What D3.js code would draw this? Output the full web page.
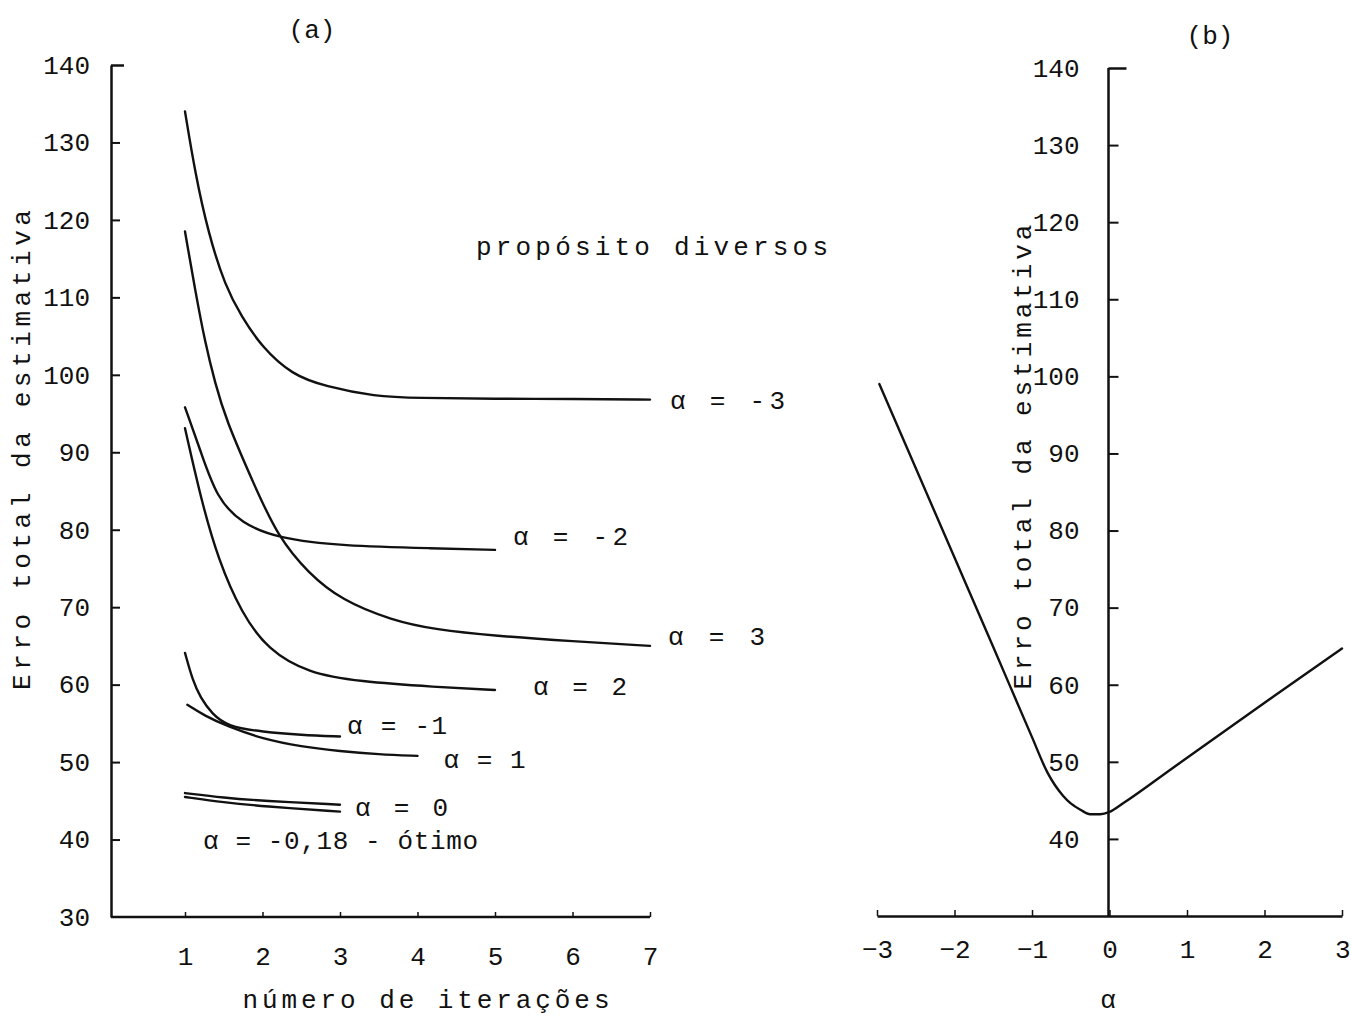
<!DOCTYPE html>
<html>
<head>
<meta charset="utf-8">
<script src="https://cdn.jsdelivr.net/npm/d3@7"></script>
<style>
  html, body { margin: 0; padding: 0; background: #fff; }
  svg { display: block; }
  text { font-family: "Liberation Mono", "DejaVu Sans Mono", monospace; fill: #111; }
</style>
</head>
<body>
<svg id="chart" width="1351" height="1023"></svg>
<script>
// ---------- DATA ----------
// Panel (a): error vs number of iterations, one curve per alpha
const iterTicks = [1, 2, 3, 4, 5, 6, 7];
const errorTicks = [30, 40, 50, 60, 70, 80, 90, 100, 110, 120, 130, 140];

const alphaM3 = [[1,134.0],[1.13,126.1],[1.3,118.3],[1.52,111.4],[1.73,107.5],[1.99,103.6],[2.38,100],[2.81,98.5],[3.45,97.2],[4,97],[5,96.9],[6,96.9],[7,96.8]];
const alphaM2 = [[1,95.8],[1.21,89.9],[1.41,84.1],[1.73,80.8],[2.2,78.9],[3.02,77.9],[4.23,77.6],[5,77.4]];
const alphaP3 = [[1,118.5],[1.13,111],[1.26,104.1],[1.39,98.9],[1.52,94.4],[1.9,85.6],[2.2,79.1],[2.59,74.4],[3.02,70.9],[3.67,68.3],[4.23,67.1],[5,66.3],[6,65.6],[7,65]];
const alphaP2 = [[1,93.1],[1.21,83.8],[1.43,76.1],[1.73,69.2],[2.07,64.5],[2.59,61.5],[3.24,60.4],[4.23,59.7],[5,59.3]];
const alphaM1 = [[1,64.1],[1.1,60.5],[1.2,58.3],[1.35,56.2],[1.55,54.6],[2,53.9],[2.5,53.5],[3,53.3]];
const alphaP1 = [[1.03,57.4],[1.25,56],[1.55,54.6],[2,53],[2.5,52],[3,51.4],[3.5,51],[4,50.8]];
const alphaZero = [[1,46.0],[1.5,45.4],[2,45.0],[3,44.5]];
const alphaOpt = [[1,45.5],[1.5,44.8],[2,44.3],[3,43.6]];

const seriesLabels = ["α = -3", "α = -2", "α = 3", "α = 2", "α = -1", "α = 1", "α = 0", "α = -0,18 - ótimo"];

// Panel (b): total error vs alpha
const alphaTicks = [-3, -2, -1, 0, 1, 2, 3];
const alphaValues = [-2.97, -2, -1.5, -1, -0.8, -0.6, -0.5, -0.37, -0.25, -0.12, 0, 0.18, 0.83, 2.12, 3];
const totalError  = [99.0, 76.5, 64.9, 53.2, 48.6, 45.6, 44.6, 43.75, 43.2, 43.2, 43.5, 44.65, 49.3, 58.5, 64.7];

// ---------- LAYOUT ----------
const svg = d3.select("#chart");
const FS = 26;

const xa = d3.scaleLinear().domain([1, 7]).range([185, 650]);
const ya = d3.scaleLinear().domain([30, 140]).range([917, 65]);
const axLeftX = 111;

const xb = d3.scaleLinear().domain([-3, 3]).range([877, 1342]);
const yb = d3.scaleLinear().domain([30, 140]).range([916, 68]);

const ink = "#111";

// ----- Panel (a) axes -----
const gA = svg.append("g");
const yAxisA = d3.axisLeft(ya).tickValues(errorTicks).tickSizeInner(-9).tickSizeOuter(0).tickPadding(21).tickFormat(d3.format("d"));
const gyA = gA.append("g").attr("transform", `translate(${axLeftX},0)`).call(yAxisA);
gyA.select(".domain").attr("stroke", ink).attr("stroke-width", 2.5);
gyA.selectAll(".tick line").attr("stroke", ink).attr("stroke-width", 2);
gyA.selectAll(".tick text").attr("font-size", FS).attr("fill", ink);
gyA.selectAll(".tick").filter(d => d === 30).select("line").remove();
gyA.selectAll(".tick").filter(d => d === 140).select("line").attr("x2", 13).attr("stroke-width", 2.5);

gA.append("line").attr("x1", axLeftX).attr("x2", xa(7)).attr("y1", ya(30)).attr("y2", ya(30))
  .attr("stroke", ink).attr("stroke-width", 2.5);
const xAxisA = d3.axisBottom(xa).tickValues(iterTicks).tickSizeInner(-5).tickSizeOuter(0).tickPadding(30).tickFormat(d3.format("d"));
const gxA = gA.append("g").attr("transform", `translate(0,${ya(30)})`).call(xAxisA);
gxA.select(".domain").remove();
gxA.selectAll(".tick line").attr("stroke", ink).attr("stroke-width", 1.5);
gxA.selectAll(".tick text").attr("font-size", FS).attr("fill", ink);

gA.append("text").attr("x", 426).attr("y", 1008).attr("text-anchor", "middle")
  .attr("font-size", FS).attr("textLength", 367).attr("lengthAdjust", "spacing").text("número de iterações");
gA.append("text").attr("transform", "translate(30,450) rotate(-90)").attr("text-anchor", "middle")
  .attr("font-size", FS).attr("textLength", 480).attr("lengthAdjust", "spacing").text("Erro total da estimativa");
gA.append("text").attr("x", 312).attr("y", 38).attr("text-anchor", "middle").attr("font-size", FS).text("(a)");
gA.append("text").attr("x", 476).attr("y", 255).attr("font-size", FS)
  .attr("textLength", 352).attr("lengthAdjust", "spacing").text("propósito diversos");

const lineA = d3.line().x(d => xa(d[0])).y(d => ya(d[1])).curve(d3.curveBasis);
const seriesA = [alphaM3, alphaM2, alphaP3, alphaP2, alphaM1, alphaP1, alphaZero, alphaOpt];
gA.selectAll("path.curve").data(seriesA).enter().append("path")
  .attr("class", "curve").attr("d", lineA)
  .attr("fill", "none").attr("stroke", ink).attr("stroke-width", 2.4).attr("stroke-linecap", "round");

// labels relative to the curve ends: [anchor point, dx, dy, text width]
const labelLayout = [
  ["last", 20, 0, 115],
  ["last", 18, -14, 115],
  ["last", 18, -10, 97],
  ["last", 38, -4, 94],
  ["last", 7, -12, 100],
  ["last", 26, 3, 82],
  ["last", 15, 2, 93],
  ["first", 18, 43, 275]
];
seriesA.forEach((s, i) => {
  const [which, dx, dy, w] = labelLayout[i];
  const p = which === "last" ? s[s.length - 1] : s[0];
  gA.append("text")
    .attr("x", xa(p[0]) + dx).attr("y", ya(p[1]) + dy)
    .attr("dy", "0.35em").attr("font-size", FS)
    .attr("textLength", w).attr("lengthAdjust", "spacing")
    .text(seriesLabels[i]);
});

// ----- Panel (b) -----
const gB = svg.append("g");
const yAxisB = d3.axisLeft(yb).tickValues(errorTicks.filter(d => d >= 40)).tickSizeInner(-10).tickSizeOuter(0).tickPadding(29).tickFormat(d3.format("d"));
const gyB = gB.append("g").attr("transform", `translate(${xb(0) - 1},0)`).call(yAxisB);
gyB.select(".domain").attr("d", `M0,${yb(140)}V${yb(30)}`).attr("stroke", ink).attr("stroke-width", 2.5);
gyB.selectAll(".tick line").attr("stroke", ink).attr("stroke-width", 2);
gyB.selectAll(".tick text").attr("font-size", FS).attr("fill", ink);
gyB.selectAll(".tick").filter(d => d === 140).select("line").attr("x2", 18).attr("stroke-width", 2.5);

const xAxisB = d3.axisBottom(xb).tickValues(alphaTicks).tickSizeInner(-6).tickSizeOuter(0).tickPadding(24).tickFormat(d3.format("d"));
const gxB = gB.append("g").attr("transform", `translate(0,${yb(30)})`).call(xAxisB);
gxB.select(".domain").attr("stroke", ink).attr("stroke-width", 2.5);
gxB.selectAll(".tick line").attr("stroke", ink).attr("stroke-width", 1.5);
gxB.selectAll(".tick text").attr("font-size", FS).attr("fill", ink);
gxB.selectAll(".tick").filter(d => d === 3).select("text").attr("text-anchor", "end").attr("x", 8);

gB.append("text").attr("x", 1108).attr("y", 1008).attr("text-anchor", "middle").attr("font-size", FS).text("α");
gB.append("text").attr("x", 1210).attr("y", 44).attr("text-anchor", "middle").attr("font-size", FS).text("(b)");
gB.append("text").attr("transform", "translate(1031,457) rotate(-90)").attr("text-anchor", "middle")
  .attr("font-size", FS).attr("textLength", 465).attr("lengthAdjust", "spacing").text("Erro total da estimativa");

const lineB = d3.line().x((d, i) => xb(alphaValues[i])).y(d => yb(d)).curve(d3.curveMonotoneX);
gB.append("path").datum(totalError).attr("d", lineB)
  .attr("fill", "none").attr("stroke", ink).attr("stroke-width", 2.4).attr("stroke-linecap", "round");
</script>
</body>
</html>
